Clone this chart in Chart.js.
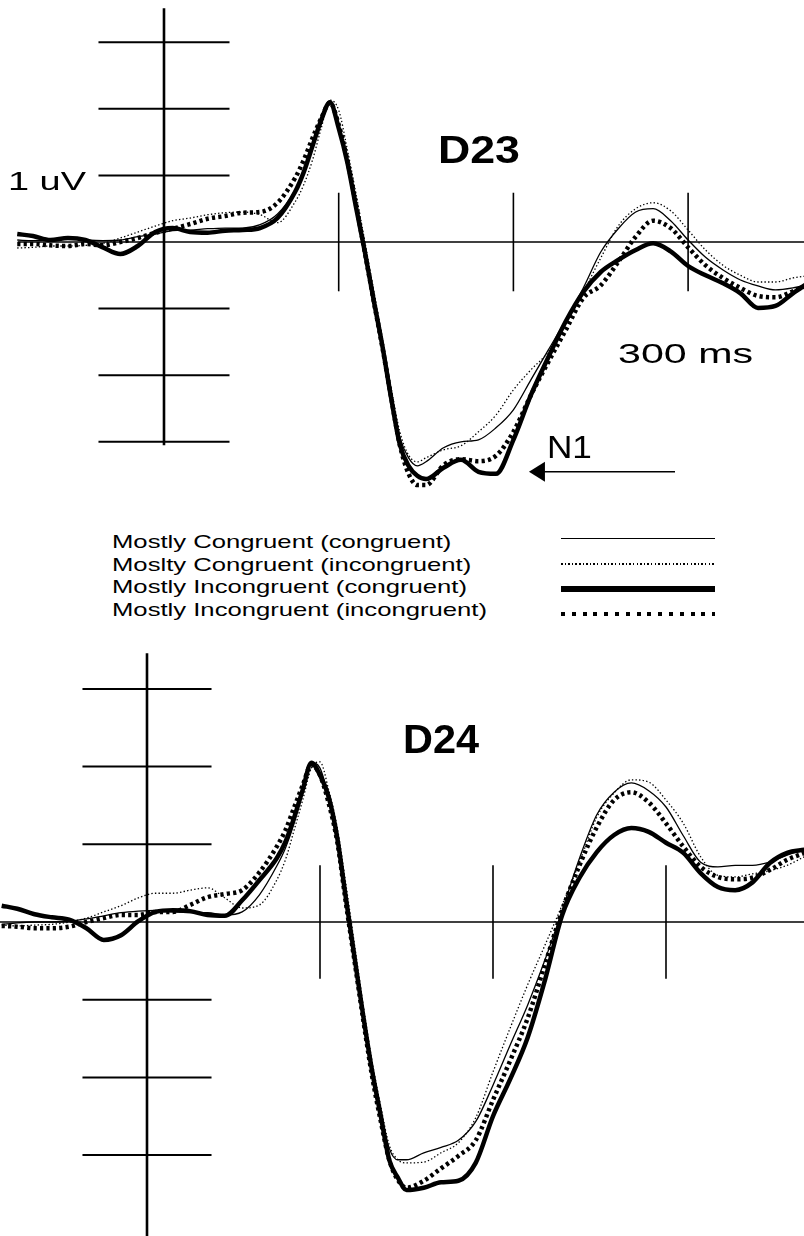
<!DOCTYPE html>
<html>
<head>
<meta charset="utf-8">
<title>D23 / D24 ERP</title>
<script src="https://cdn.jsdelivr.net/npm/chart.js@4.4.1/dist/chart.umd.min.js"></script>
<style>
  body {
    margin: 0;
    background: #fff;
    width: 804px;
    height: 1236px;
    position: relative;
    overflow: hidden;
    font-family: "Liberation Sans", Arial, sans-serif;
  }
  canvas {
    position: absolute;
    left: 0;
  }
  #d23 { top: 0; }
  #d24 { top: 630px; }
  .legend-text {
    position: absolute;
    left: 112px;
    font-size: 19px;
    line-height: 23px;
    white-space: nowrap;
    transform: scaleX(1.35);
    transform-origin: left top;
    color: #000;
  }
  .legend-line {
    position: absolute;
    left: 561px;
    width: 154px;
  }
</style>
</head>
<body>
<canvas id="d23" width="804" height="520"></canvas>
<div id="legend"></div>
<canvas id="d24" width="804" height="606"></canvas>

<script>
// time points in ms, shared by both electrodes
const times = [
  -84, -75, -65, -55, -45, -35, -25, -15, -5, 5, 15, 25, 35, 45, 55, 65, 75,
  80, 85, 90, 95, 100, 105, 110, 115, 120, 125, 130, 135, 140, 145, 150,
  160, 170, 180, 190, 200, 210, 220, 230, 240, 250, 260, 270, 280, 290, 300,
  310, 320, 330, 340, 350, 360, 370, 380,
];

const seriesNames = [
  "Mostly Congruent (congruent)",
  "Moslty Congruent (incongruent)",
  "Mostly Incongruent (congruent)",
  "Mostly Incongruent (incongruent)",
];

// amplitudes in uV
const d23McCong = [
  0.03, 0.02, 0.03, 0.05, 0.03, 0.02, 0.03, 0.08, 0.12, 0.17, 0.18, 0.2, 0.21,
  0.21, 0.26, 0.42, 0.78, 1.08, 1.46, 1.86, 2.12, 1.74, 1.23, 0.56, -0.12,
  -0.83, -1.52, -2.25, -2.93, -3.24, -3.36, -3.3, -3.09, -3.0, -2.97, -2.79,
  -2.52, -2.07, -1.62, -1.17, -0.69, -0.15, 0.2, 0.45, 0.5, 0.32, 0.03, -0.23,
  -0.42, -0.57, -0.66, -0.72, -0.69, -0.63, -0.57,
];
const d23McIncong = [
  -0.09, -0.08, -0.06, -0.06, -0.05, -0.02, 0.06, 0.15, 0.24, 0.32, 0.36, 0.41,
  0.44, 0.45, 0.41, 0.29, 0.6, 0.86, 1.23, 1.71, 2.13, 1.98, 1.38, 0.71, 0.0,
  -0.72, -1.44, -2.19, -2.85, -3.2, -3.3, -3.24, -3.12, -3.06, -2.85, -2.6,
  -2.22, -1.92, -1.65, -1.22, -0.75, -0.24, 0.24, 0.5, 0.59, 0.47, 0.18, -0.12,
  -0.35, -0.5, -0.6, -0.6, -0.54, -0.5, -0.45,
];
const d23MiCong = [
  0.12, 0.09, 0.03, 0.06, 0.03, -0.08, -0.18, -0.06, 0.15, 0.21, 0.15, 0.14,
  0.17, 0.18, 0.21, 0.36, 0.75, 1.05, 1.44, 1.83, 2.1, 1.71, 1.19, 0.51, -0.15,
  -0.87, -1.56, -2.34, -3.04, -3.36, -3.51, -3.56, -3.39, -3.27, -3.45, -3.48,
  -2.97, -2.3, -1.73, -1.19, -0.75, -0.45, -0.27, -0.12, -0.02, -0.14, -0.36,
  -0.5, -0.62, -0.77, -0.99, -0.96, -0.77, -0.6, -0.51,
];
const d23MiIncong = [
  -0.03, -0.03, -0.05, -0.06, -0.03, -0.05, 0.0, 0.06, 0.14, 0.2, 0.27, 0.35,
  0.39, 0.44, 0.45, 0.59, 0.96, 1.23, 1.56, 1.86, 2.09, 1.76, 1.22, 0.55, -0.16,
  -0.88, -1.58, -2.33, -3.05, -3.48, -3.65, -3.65, -3.35, -3.26, -3.29, -3.21,
  -2.85, -2.3, -1.8, -1.32, -0.84, -0.65, -0.3, 0.08, 0.32, 0.21, -0.08, -0.35,
  -0.54, -0.69, -0.81, -0.83, -0.74, -0.63, -0.56,
];

const d24McCong = [
  -0.03, -0.01, 0.0, 0.0, 0.01, 0.04, 0.08, 0.12, 0.14, 0.15, 0.13, 0.12, 0.12,
  0.09, 0.13, 0.35, 0.72, 0.95, 1.27, 1.7, 2.05, 1.98, 1.61, 1.16, 0.35, -0.42,
  -1.17, -1.87, -2.42, -2.91, -3.06, -3.06, -2.97, -2.9, -2.81, -2.57, -2.1,
  -1.58, -1.07, -0.49, 0.15, 0.82, 1.38, 1.67, 1.79, 1.69, 1.48, 1.11, 0.77,
  0.71, 0.73, 0.73, 0.77, 0.86, 0.93,
];
const d24McIncong = [
  -0.04, -0.05, -0.04, -0.03, 0.0, 0.05, 0.13, 0.21, 0.31, 0.37, 0.37, 0.41,
  0.44, 0.31, 0.18, 0.22, 0.54, 0.8, 1.18, 1.57, 1.98, 2.06, 1.7, 1.21, 0.48,
  -0.3, -1.07, -1.78, -2.36, -2.87, -3.06, -3.1, -3.09, -2.97, -2.84, -2.52,
  -1.93, -1.36, -0.81, -0.3, 0.22, 0.77, 1.35, 1.66, 1.83, 1.8, 1.57, 1.27,
  0.84, 0.6, 0.58, 0.62, 0.66, 0.73, 0.84,
];
const d24MiCong = [
  0.21, 0.17, 0.1, 0.06, 0.03, -0.08, -0.23, -0.17, 0.01, 0.13, 0.15, 0.14,
  0.09, 0.08, 0.28, 0.54, 0.82, 1.03, 1.34, 1.7, 2.05, 1.89, 1.61, 1.08, 0.3,
  -0.46, -1.21, -1.9, -2.48, -3.06, -3.29, -3.45, -3.42, -3.35, -3.33, -3.1,
  -2.5, -2.02, -1.49, -0.75, 0.09, 0.57, 0.9, 1.12, 1.21, 1.16, 1.02, 0.89,
  0.63, 0.45, 0.41, 0.51, 0.76, 0.89, 0.93,
];
const d24MiIncong = [
  -0.05, -0.06, -0.08, -0.08, -0.06, 0.0, 0.05, 0.09, 0.09, 0.13, 0.13, 0.22,
  0.32, 0.36, 0.41, 0.64, 0.97, 1.18, 1.47, 1.76, 2.02, 1.89, 1.53, 1.03, 0.24,
  -0.51, -1.26, -1.97, -2.55, -3.06, -3.32, -3.42, -3.33, -3.17, -3.01, -2.81,
  -2.29, -1.78, -1.24, -0.55, 0.15, 0.73, 1.22, 1.57, 1.67, 1.54, 1.27, 0.97,
  0.71, 0.58, 0.55, 0.57, 0.67, 0.8, 0.89,
];

// calibration marks
const uvTicks = [3, 2, 1, -1, -2, -3];
const msTicks = [100, 200, 300];

const FONT = '"Liberation Sans", Arial, sans-serif';

const seriesStyles = [
  { width: 1.3, dash: [] },
  { width: 1.3, dash: [1.4, 2.2] },
  { width: 4.5, dash: [] },
  { width: 4.5, dash: [3.2, 3.2] },
];

function toPoints(values) {
  return times.map((t, i) => ({ x: t, y: values[i] }));
}

function strokeLine(ctx, x1, y1, x2, y2, width) {
  ctx.lineWidth = width;
  ctx.beginPath();
  ctx.moveTo(x1, y1);
  ctx.lineTo(x2, y2);
  ctx.stroke();
}

// text squeezed/stretched to a given pixel width (the figure font is wide)
function stretchText(ctx, text, x, y, font, width) {
  ctx.font = font;
  const w = ctx.measureText(text).width;
  ctx.save();
  ctx.translate(x, y);
  ctx.scale(width / w, 1);
  ctx.fillText(text, 0, 0);
  ctx.restore();
}

// axes, calibration ticks and annotations for one electrode panel
const erpFrame = {
  id: "erpFrame",
  beforeDatasetsDraw(chart, args, opts) {
    const { ctx, scales } = chart;
    const px = (t) => scales.x.getPixelForValue(t);
    const py = (v) => scales.y.getPixelForValue(v);
    ctx.save();
    ctx.strokeStyle = "#000";
    ctx.lineCap = "butt";
    strokeLine(ctx, px(opts.baseFrom), py(0), px(scales.x.max), py(0), 1.3);
    strokeLine(ctx, px(0), py(opts.axisTop), px(0), py(opts.axisBottom), 2.6);
    uvTicks.forEach((v) => {
      strokeLine(ctx, px(-opts.tickHalf), py(v), px(opts.tickHalf), py(v), 2);
    });
    msTicks.forEach((t) => {
      strokeLine(ctx, px(t), py(opts.msTickHalf), px(t), py(-opts.msTickHalf), 1.6);
    });
    ctx.restore();
  },
  afterDatasetsDraw(chart, args, opts) {
    const { ctx, scales } = chart;
    const px = (t) => scales.x.getPixelForValue(t);
    const py = (v) => scales.y.getPixelForValue(v);
    ctx.save();
    ctx.fillStyle = "#000";
    ctx.strokeStyle = "#000";
    ctx.textBaseline = "alphabetic";
    ctx.textAlign = "left";
    (opts.labels || []).forEach((l) => {
      const font = `${l.bold ? "bold " : ""}${l.size}px ${FONT}`;
      stretchText(ctx, l.text, px(l.t), py(l.v), font, l.width);
    });
    if (opts.arrow) {
      const a = opts.arrow;
      const tipX = px(a.to);
      const y = py(a.v);
      strokeLine(ctx, px(a.from), y, tipX + 14, y, 1.6);
      ctx.beginPath();
      ctx.moveTo(tipX, y);
      ctx.lineTo(tipX + 16, y - 10);
      ctx.lineTo(tipX + 16, y + 10);
      ctx.closePath();
      ctx.fill();
    }
    ctx.restore();
  },
};

function buildChart(id, seriesValues, frame) {
  return new Chart(document.getElementById(id), {
    type: "line",
    data: {
      datasets: seriesValues.map((values, i) => ({
        label: seriesNames[i],
        data: toPoints(values),
        borderColor: "#000",
        borderWidth: seriesStyles[i].width,
        borderDash: seriesStyles[i].dash,
        pointRadius: 0,
        cubicInterpolationMode: "monotone",
        fill: false,
      })),
    },
    options: {
      responsive: false,
      animation: false,
      devicePixelRatio: 1,
      events: [],
      layout: { padding: 0 },
      scales: {
        x: { type: "linear", min: frame.xMin, max: frame.xMax, display: false },
        y: { type: "linear", min: frame.yMin, max: frame.yMax, display: false },
      },
      plugins: {
        legend: { display: false },
        tooltip: { enabled: false },
        erpFrame: frame,
      },
    },
    plugins: [erpFrame],
  });
}

function buildLegend() {
  const legend = document.getElementById("legend");
  const sampleTops = [537.5, 563.2, 586, 612];
  const sampleCss = [
    "height:1.5px;background:#000",
    "height:1.5px;background:repeating-linear-gradient(90deg,#000 0 1.5px,transparent 1.5px 3.6px)",
    "height:5.5px;background:#000",
    "height:4px;background:repeating-linear-gradient(90deg,#000 0 4px,transparent 4px 10.8px)",
  ];
  seriesNames.forEach((name, i) => {
    const text = document.createElement("div");
    text.className = "legend-text";
    text.style.top = 530 + i * 22.7 + "px";
    text.textContent = name;
    legend.appendChild(text);

    const sample = document.createElement("div");
    sample.className = "legend-line";
    sample.style.cssText += ";top:" + sampleTops[i] + "px;" + sampleCss[i];
    legend.appendChild(sample);
  });
}

document.addEventListener("DOMContentLoaded", function () {
  buildChart("d23", [d23McCong, d23McIncong, d23MiCong, d23MiIncong], {
    xMin: -93.87,
    xMax: 366.34,
    yMin: -4.174,
    yMax: 3.634,
    baseFrom: -83.6,
    axisTop: 3.51,
    axisBottom: -3.05,
    tickHalf: 37.5,
    msTickHalf: 0.74,
    labels: [
      { text: "1 uV", t: -89.3, v: 0.78, size: 26, width: 78 },
      { text: "D23", t: 156.8, v: 1.19, size: 39, bold: true, width: 82 },
      { text: "300 ms", t: 259.9, v: -1.82, size: 28, width: 135 },
      { text: "N1", t: 219.2, v: -3.24, size: 32, width: 45 },
    ],
    arrow: { from: 292.5, to: 208.9, v: -3.45 },
  });

  buildLegend();

  buildChart("d24", [d24McCong, d24McIncong, d24MiCong, d24MiIncong], {
    xMin: -84.97,
    xMax: 379.77,
    yMin: -4.041,
    yMax: 3.758,
    baseFrom: -84.97,
    axisTop: 3.46,
    axisBottom: -4.1,
    tickHalf: 37.3,
    msTickHalf: 0.73,
    labels: [
      { text: "D24", t: 148, v: 2.18, size: 40, bold: true, width: 76 },
    ],
  });
});
</script>
</body>
</html>
